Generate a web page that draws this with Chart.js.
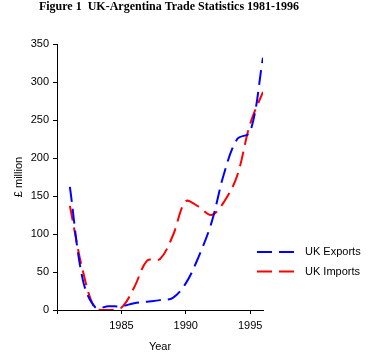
<!DOCTYPE html>
<html>
<head>
<meta charset="utf-8">
<script src="https://cdn.jsdelivr.net/npm/chart.js@4/dist/chart.umd.min.js"></script>
<style>
  html, body { margin: 0; padding: 0; background: #fff; }
  #wrap { width: 371px; height: 355px; position: relative; }
</style>
</head>
<body>
<div id="wrap"><canvas id="c" width="371" height="355"></canvas></div>
<script>
// ---- data ----
const years = [1981, 1982, 1983, 1984, 1985, 1986, 1987, 1988, 1989, 1990, 1991, 1992, 1993, 1994, 1995, 1996];
const ukExports = [162, 40, 3, 5, 5, 9, 11, 13, 16, 35, 70, 115, 181, 225, 234, 332];
const ukImports = [137, 52, 1, 0, 3, 30, 65, 67, 98, 143, 136, 125, 143, 177, 245, 287];
const seriesNames = ['UK Exports', 'UK Imports'];
const xTickValues = [1980, 1985, 1990, 1995];
const xTickLabels = ['', '1985', '1990', '1995'];
const yTickValues = [0, 50, 100, 150, 200, 250, 300, 350];
const titleText = 'Figure 1  UK-Argentina Trade Statistics 1981-1996';
const xTitle = 'Year';
const yTitle = '£ million';

const SANS = '"Liberation Sans", Arial, sans-serif';
const SERIF = '"Liberation Serif", "Times New Roman", serif';

const decor = {
  id: 'decor',
  afterDraw(chart) {
    const ctx = chart.ctx;
    const ca = chart.chartArea;
    ctx.save();
    ctx.fillStyle = '#000';
    // title
    ctx.font = 'bold 12px ' + SERIF;
    ctx.textAlign = 'center';
    ctx.textBaseline = 'alphabetic';
    ctx.fillText(titleText, 169, 10);
    // x title
    ctx.font = '11px ' + SANS;
    ctx.textBaseline = 'middle';
    ctx.fillText(xTitle, (ca.left + ca.right) / 2, 347);
    // y title
    ctx.save();
    ctx.translate(19, (ca.top + ca.bottom) / 2);
    ctx.rotate(-Math.PI / 2);
    ctx.fillText(yTitle, 0, 0);
    ctx.restore();
    // legend
    chart.data.datasets.forEach((ds, i) => {
      const y = 252 + i * 19.5;
      ctx.strokeStyle = ds.borderColor;
      ctx.lineWidth = ds.borderWidth;
      ctx.setLineDash(ds.borderDash);
      ctx.beginPath();
      ctx.moveTo(257, y);
      ctx.lineTo(294, y);
      ctx.stroke();
      ctx.setLineDash([]);
      ctx.textAlign = 'left';
      ctx.fillStyle = '#000';
      ctx.fillText(ds.label, 305, y);
    });
    ctx.restore();
  }
};

new Chart(document.getElementById('c'), {
  type: 'line',
  data: {
    datasets: [
      {
        label: seriesNames[0],
        data: years.map((y, i) => ({ x: y, y: ukExports[i] })),
        borderColor: '#0000FF',
        borderWidth: 2,
        borderDash: [15, 7],
        pointRadius: 0,
        tension: 0.35,
        fill: false
      },
      {
        label: seriesNames[1],
        data: years.map((y, i) => ({ x: y, y: ukImports[i] })),
        borderColor: '#FF0000',
        borderWidth: 2,
        borderDash: [15, 7],
        pointRadius: 0,
        tension: 0.35,
        fill: false
      }
    ]
  },
  options: {
    responsive: false,
    animation: false,
    devicePixelRatio: 1,
    layout: { padding: { left: 0, right: 108, top: 44, bottom: 0 } },
    plugins: { legend: { display: false }, title: { display: false }, tooltip: { enabled: false } },
    scales: {
      x: {
        type: 'linear',
        min: 1980,
        max: 1996,
        afterBuildTicks: (s) => { s.ticks = xTickValues.map(v => ({ value: v })); },
        afterFit: (s) => { s.height = 45; },
        grid: { display: true, drawOnChartArea: false, drawTicks: true, tickLength: 4, color: '#000', lineWidth: 1 },
        border: { display: true, color: '#000', width: 1 },
        ticks: {
          color: '#000', padding: 5, maxRotation: 0, autoSkip: false,
          font: { family: SANS, size: 11 },
          callback: (v) => { const k = xTickValues.indexOf(v); return k >= 0 ? xTickLabels[k] : ''; }
        }
      },
      y: {
        type: 'linear',
        min: 0,
        max: 350,
        afterBuildTicks: (s) => { s.ticks = yTickValues.map(v => ({ value: v })); },
        afterFit: (s) => { s.width = 57; },
        grid: { display: true, drawOnChartArea: false, drawTicks: true, tickLength: 4, color: '#000', lineWidth: 1 },
        border: { display: true, color: '#000', width: 1 },
        ticks: { color: '#000', padding: 4, font: { family: SANS, size: 11 } }
      }
    }
  },
  plugins: [decor]
});
</script>
</body>
</html>
